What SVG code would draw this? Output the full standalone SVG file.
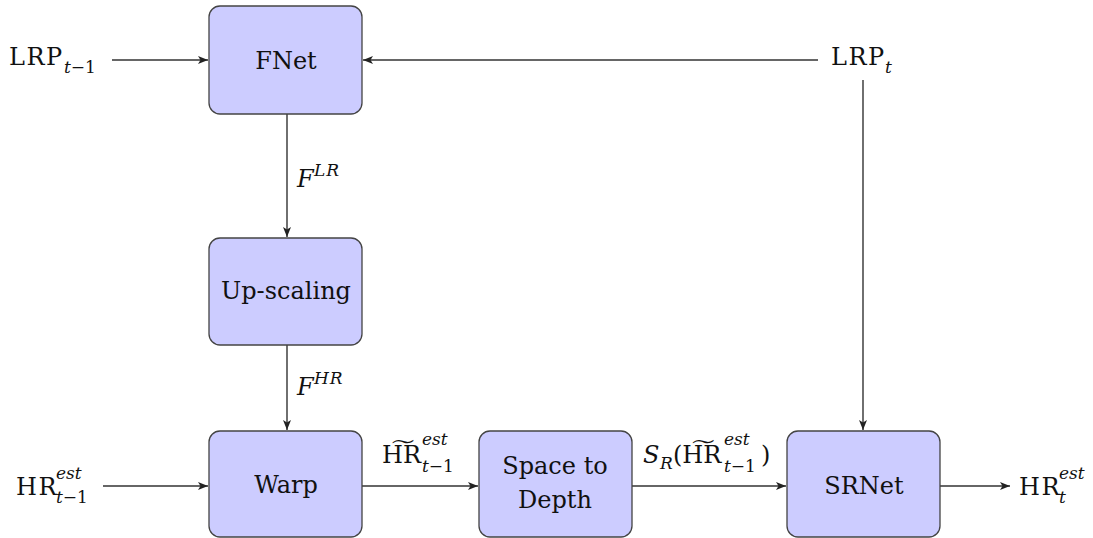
<svg xmlns="http://www.w3.org/2000/svg" width="1093" height="538" viewBox="0 0 1093 538">
  <defs>
    <marker id="arrow" viewBox="0 0 10 8" refX="10" refY="4" markerWidth="10" markerHeight="8" markerUnits="userSpaceOnUse" orient="auto">
      <path d="M0,0 L10,4 L0,8 L2.5,4 Z" fill="#222"/>
    </marker>
    <style>
      .box { fill: #ccccff; stroke: #444; stroke-width: 1.3; }
      .lbl { font-family: "DejaVu Serif", "Liberation Serif", serif; font-size: 24px; fill: #111; }
      .it { font-style: italic; }
      .sm { font-size: 17px; }
      .mid { text-anchor: middle; }
      .wide { letter-spacing: 1.5px; }
      .conn { stroke: #333; stroke-width: 1.4; fill: none; marker-end: url(#arrow); }
    </style>
  </defs>
  <rect width="1093" height="538" fill="#fff"/>

  <!-- connectors -->
  <g id="connectors">
    <line class="conn" x1="112" y1="60" x2="208" y2="60"/>
    <line class="conn" x1="818" y1="60" x2="363" y2="60"/>
    <line class="conn" x1="863" y1="80" x2="863" y2="430"/>
    <line class="conn" x1="287" y1="114" x2="287" y2="237"/>
    <line class="conn" x1="287" y1="345" x2="287" y2="430"/>
    <line class="conn" x1="103" y1="486" x2="208" y2="486"/>
    <line class="conn" x1="362" y1="486" x2="478" y2="486"/>
    <line class="conn" x1="632" y1="486" x2="786" y2="486"/>
    <line class="conn" x1="940" y1="486" x2="1010" y2="486"/>
  </g>

  <!-- nodes -->
  <g id="fnet">
    <rect class="box" x="209" y="6" width="153" height="108" rx="11"/>
    <text class="lbl mid" x="286" y="69">FNet</text>
  </g>
  <g id="upscaling">
    <rect class="box" x="209" y="238" width="153" height="107" rx="11"/>
    <text class="lbl mid" x="286" y="299">Up-scaling</text>
  </g>
  <g id="warp">
    <rect class="box" x="209" y="431" width="153" height="106" rx="11"/>
    <text class="lbl mid" x="286" y="493">Warp</text>
  </g>
  <g id="space-to-depth">
    <rect class="box" x="479" y="431" width="153" height="106" rx="11"/>
    <text class="lbl mid" x="555" y="474">Space to</text>
    <text class="lbl mid" x="555" y="508">Depth</text>
  </g>
  <g id="srnet">
    <rect class="box" x="787" y="431" width="153" height="106" rx="11"/>
    <text class="lbl mid" x="864" y="494">SRNet</text>
  </g>

  <!-- inputs and outputs -->
  <g id="lrp-prev">
    <text class="lbl wide" x="9" y="65">LRP</text>
    <text class="lbl sm" x="64" y="73"><tspan class="it">t</tspan>−1</text>
  </g>
  <g id="lrp-cur">
    <text class="lbl wide" x="831" y="65">LRP</text>
    <text class="lbl sm it" x="885" y="73">t</text>
  </g>
  <g id="hr-prev">
    <text class="lbl wide" x="16" y="495">HR</text>
    <text class="lbl sm it" x="56" y="479">est</text>
    <text class="lbl sm" x="56" y="503"><tspan class="it">t</tspan>−1</text>
  </g>
  <g id="hr-out">
    <text class="lbl wide" x="1019" y="495">HR</text>
    <text class="lbl sm it" x="1059" y="479">est</text>
    <text class="lbl sm it" x="1059" y="503">t</text>
  </g>

  <!-- edge labels -->
  <g id="edge-labels">
    <text class="lbl it" x="297" y="187">F</text>
    <text class="lbl sm it" x="314" y="176" letter-spacing="1">LR</text>
    <text class="lbl it" x="297" y="395">F</text>
    <text class="lbl sm it" x="314" y="384" letter-spacing="1">HR</text>

    <text class="lbl" x="382" y="463">H&#x0360;R</text>
    <text class="lbl sm it" x="422" y="445">est</text>
    <text class="lbl sm" x="422" y="472"><tspan class="it">t</tspan>−1</text>

    <text class="lbl it" x="643" y="463">S</text>
    <text class="lbl sm it" x="660" y="469">R</text>
    <text class="lbl" x="673" y="463">(H&#x0360;R</text>
    <text class="lbl sm it" x="724" y="445">est</text>
    <text class="lbl sm" x="724" y="472"><tspan class="it">t</tspan>−1</text>
    <text class="lbl" x="761" y="463">)</text>
  </g>
</svg>
